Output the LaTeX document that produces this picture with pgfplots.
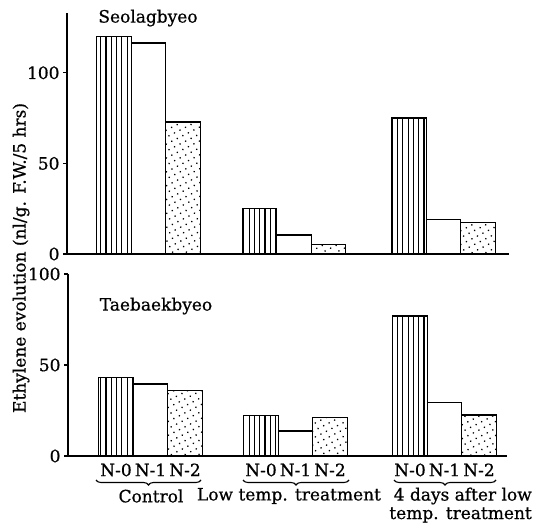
\documentclass[border=0pt]{standalone}
\usepackage{fontspec}
\setmainfont{DejaVu Serif}[FakeBold=0.7]
\usepackage{pgfplots}
\pgfplotsset{compat=1.18}
\usetikzlibrary{patterns.meta, decorations.pathreplacing}

\pgfplotsset{
  panel/.style={
    scale only axis,
    axis x line*=bottom, axis y line*=left,
    axis line style={line width=1.3bp, black},
    ymin=0, ytick={0,50,100},
    tick align=outside, major tick length=4bp,
    tick style={line width=1.1bp, black},
    ticklabel style={font=\fontsize{17bp}{20bp}\selectfont},
    /pgf/number format/assume math mode=true,
    clip=false,
  },
  nzero/.style={ybar, bar width=34.5, bar shift=0pt, draw=black, line width=1.4bp,
    pattern={Lines[angle=90,distance=5.3bp,line width=1.1bp]}},
  none/.style={ybar, bar width=34.5, bar shift=0pt, draw=black, line width=1.4bp, fill=white},
  ntwo/.style={ybar, bar width=34.5, bar shift=0pt, draw=black, line width=1.4bp,
    pattern={Dots[distance=6.2bp,radius=0.9bp,angle=27]}},
}

\begin{document}
\begin{tikzpicture}[font=\fontsize{17bp}{20bp}\selectfont]
\path[use as bounding box] (0,0) rectangle (536bp,528bp);

% Top panel: Seolagbyeo
\begin{axis}[panel, at={(67bp,274bp)}, anchor=south west,
  width=442bp, height=241bp, xmin=67, xmax=509, ymax=133, xtick=\empty]
\addplot[nzero] coordinates {(114,120) (259.5,25.2) (409,75)};
\addplot[none]  coordinates {(148.5,116.4) (294,10.5) (443.5,19.2)};
\addplot[ntwo]  coordinates {(183,72.8) (328.5,5.4) (478,17.5)};
\end{axis}

% Bottom panel: Taebaekbyeo
\begin{axis}[panel, at={(68bp,72bp)}, anchor=south west,
  width=439bp, height=182bp, xmin=68, xmax=507, ymax=100,
  xtick={116,150.5,185,261,295.5,330,410,444.5,479},
  xticklabels={N-0,N-1,N-2,N-0,N-1,N-2,N-0,N-1,N-2},
  xtick style={draw=none}]
\addplot[nzero] coordinates {(116,43.2) (261,22.1) (410,77)};
\addplot[none]  coordinates {(150.5,39.6) (295.5,13.7) (444.5,29.3)};
\addplot[ntwo]  coordinates {(185,36.1) (330,21) (479,22.5)};
\end{axis}

\node at (148bp,510bp) {Seolagbyeo};
\node at (156bp,222bp) {Taebaekbyeo};
\node[rotate=90] at (21bp,270bp) {Ethylene evolution (nl/g. F.W./5 hrs)};

\draw[decorate, decoration={brace,mirror,amplitude=5bp}, line width=1.1bp] (96bp,48bp) -- (201bp,48bp);
\draw[decorate, decoration={brace,mirror,amplitude=5bp}, line width=1.1bp] (243bp,48bp) -- (349bp,48bp);
\draw[decorate, decoration={brace,mirror,amplitude=5bp}, line width=1.1bp] (394bp,48bp) -- (496bp,48bp);

\node at (151bp,32bp) {Control};
\node at (289bp,32bp) {Low temp. treatment};
\node[anchor=east, inner sep=0pt] at (532bp,32bp) {4 days after low};
\node[anchor=east, inner sep=0pt] at (532bp,13bp) {temp. treatment};
\end{tikzpicture}
\end{document}
